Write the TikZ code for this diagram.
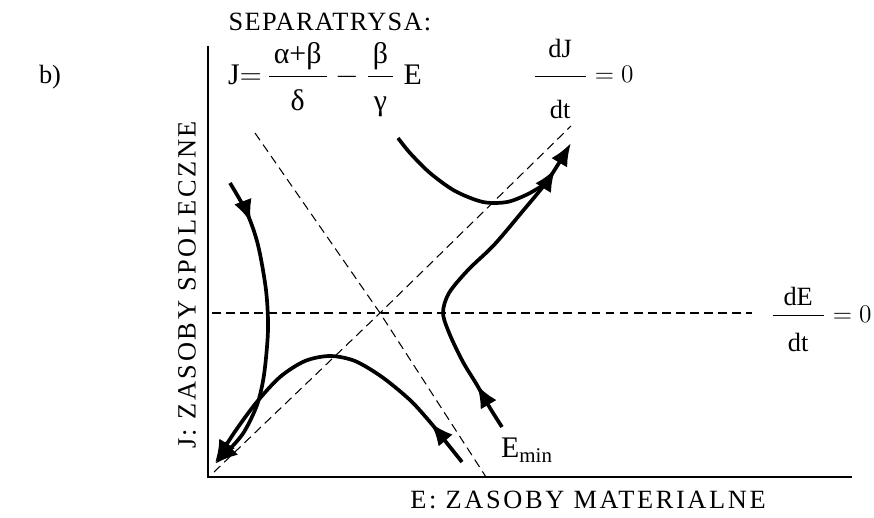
\documentclass[tikz,border=0pt]{standalone}
\usepackage{fontspec}
\usepackage{amsmath}
\setmainfont{Liberation Serif}
\newfontfamily\rozstrzelone[LetterSpace=10]{Liberation Serif}
\newfontfamily\tytulowa[LetterSpace=5]{Liberation Serif}
\usetikzlibrary{arrows.meta,decorations.markings}

\tikzset{
  os/.style={line width=1.6pt},
  izoklina/.style={dash pattern=on 5pt off 3pt, line width=0.6pt},
  trajektoria/.style={line width=2.1pt},
  grot/.style={postaction={decorate,decoration={markings,
      mark=at position #1 with {\arrow{Latex[length=13pt,width=10.5pt]}}}}},
  napis/.style={font=\rozstrzelone\fontsize{15}{18}\selectfont},
}

\begin{document}
\begin{tikzpicture}[x=0.2mm,y=-0.2mm,font=\fontsize{15}{18}\selectfont]
\useasboundingbox (0,0) rectangle (874,517);
% osie
\coordinate (O) at (208,477);
\coordinate (Jgora) at (208,46);
\coordinate (Ekoniec) at (852,477);
\draw[os] (Jgora) -- (O) -- (Ekoniec);
\node[napis,rotate=90] (osJ) at (187,285) {J: ZASOBY SPOLECZNE};
\node[napis] (osE) at (588,500) {E: ZASOBY MATERIALNE};
% opisy
\node (czesc) at (50,77) {b)};
\node[font=\tytulowa\fontsize{15}{18}\selectfont] (tytul) at (330,22) {SEPARATRYSA:};
\node[font=\fontsize{17}{20}\selectfont] (wzor) at (325,80) {$\text{J}{=}\,\dfrac{\text{\,α+β\,}\rule[-2pt]{0pt}{0pt}}{\rule{0pt}{17pt}\text{δ}}
  -\dfrac{\text{\,β\,}\rule[-2pt]{0pt}{0pt}}{\rule{0pt}{17pt}\text{γ}}\;\text{E}$};
\node (dJdt) at (583,79) {$\dfrac{\makebox[29pt]{\text{dJ}}\rule[-9pt]{0pt}{0pt}}{\rule{0pt}{22pt}\text{dt}} = 0$};
\node (dEdt) at (821,319) {$\dfrac{\makebox[29pt]{\text{dE}}\rule[-4pt]{0pt}{0pt}}{\rule{0pt}{18pt}\text{dt}} = 0$};
\node[font=\fontsize{17}{20}\selectfont] (Emin) at (527,450) {E$_{\text{min}}$};
% izokliny
\coordinate (S) at (380,313);
\draw[izoklina] (212,313) -- (S) -- (752,313);
\draw[izoklina] (214,472) -- (S) -- (571,126);
\draw[izoklina] (255,133) -- (S) -- (486,477);
% trajektorie
\draw[trajektoria,grot=9mm,-{Latex[length=13pt,width=10.5pt]}] plot[smooth] coordinates
  {(230,183) (247,213) (258,245) (266,290) (268,330) (264,375) (257,405) (244,432) (229,450) (215,464)};
\draw[trajektoria,grot=10mm,-{Latex[length=13pt,width=10.5pt]}] plot[smooth] coordinates
  {(462,462) (446,442) (430,422) (410,400) (382,377) (355,361) (330,356) (305,361) (280,377) (256,403) (234,433) (215,463)};
\draw[trajektoria,grot=9.8mm,grot=-6mm,-{Latex[length=13pt,width=10.5pt]}] plot[smooth] coordinates
  {(502,427) (490,408) (477,385) (463,362) (450,335) (443,313) (449,293) (468,270) (494,245) (522,212) (548,180) (571,143)};
\draw[trajektoria] plot[smooth] coordinates
  {(398,138) (410,153) (430,173) (455,191) (483,202) (507,202) (528,194) (550,181)};
\end{tikzpicture}
\end{document}
